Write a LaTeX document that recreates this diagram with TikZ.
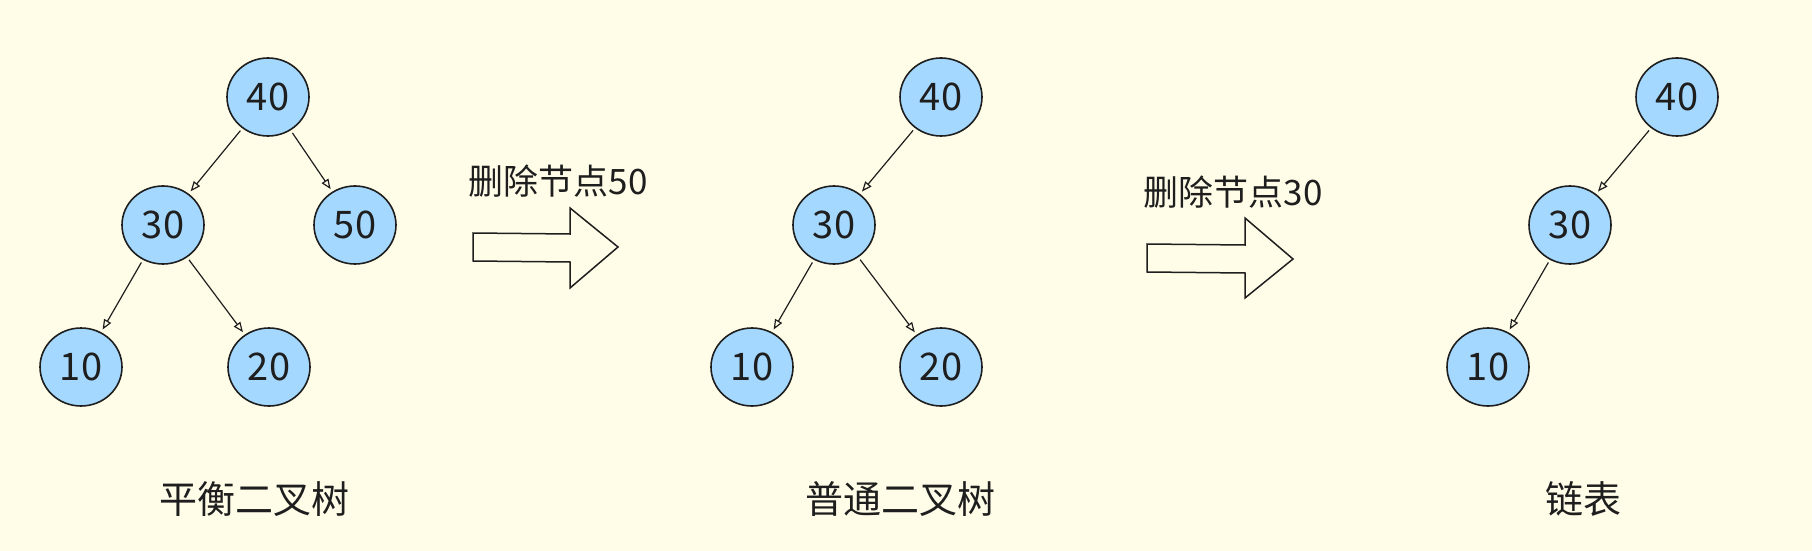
\documentclass[tikz,border=0pt]{standalone}
\usepackage{fontspec}
\setmainfont{Noto Sans CJK SC}
\usetikzlibrary{arrows.meta,shapes.geometric}
\definecolor{bg}{HTML}{FFFDE8}
\definecolor{nb}{HTML}{A5D8FF}
\definecolor{ink}{HTML}{1E1E1E}
\begin{document}
\begin{tikzpicture}[x=1pt,y=-1pt,
  nd/.style={ellipse,draw=ink,line width=1.6pt,fill=nb,minimum width=82pt,minimum height=78pt,inner sep=0pt,font=\fontsize{38}{40}\selectfont,text=ink},
  ed/.style={draw=ink,line width=1.2pt,-{Triangle[open,length=10pt,width=8pt]},shorten <=3pt,shorten >=3pt},
  lb/.style={font=\fontsize{38}{40}\selectfont,text=ink},
  bigarrow/.style={draw=ink,line width=1.5pt,fill=bg}]
\useasboundingbox[fill=bg] (0,0) rectangle (1812,551);
% tree 1
\node[nd] (a40) at (268,97) {40};
\node[nd] (a30) at (163,225) {30};
\node[nd] (a50) at (355,225) {50};
\node[nd] (a10) at (81,367) {10};
\node[nd] (a20) at (269,367) {20};
\draw[ed] (a40) -- (a30); \draw[ed] (a40) -- (a50);
\draw[ed] (a30) -- (a10); \draw[ed] (a30) -- (a20);
\node[lb] (l1) at (254,499) {平衡二叉树};
% arrow 1
\draw[bigarrow] (473,233) -- (570,234) -- (570,208) -- (618,247) -- (570,288) -- (570,262) -- (473,261) -- cycle;
\node[lb,font=\fontsize{35}{38}\selectfont] (t1) at (558,181) {删除节点50};
% tree 2
\node[nd] (b40) at (941,97) {40};
\node[nd] (b30) at (834,225) {30};
\node[nd] (b10) at (752,367) {10};
\node[nd] (b20) at (941,367) {20};
\draw[ed] (b40) -- (b30);
\draw[ed] (b30) -- (b10); \draw[ed] (b30) -- (b20);
\node[lb] (l2) at (900,499) {普通二叉树};
% arrow 2
\draw[bigarrow] (1147,244) -- (1245,245) -- (1245,218) -- (1293,259) -- (1245,298) -- (1245,273) -- (1147,272) -- cycle;
\node[lb,font=\fontsize{35}{38}\selectfont] (t2) at (1233,192) {删除节点30};
% tree 3
\node[nd] (c40) at (1677,97) {40};
\node[nd] (c30) at (1570,225) {30};
\node[nd] (c10) at (1488,367) {10};
\draw[ed] (c40) -- (c30); \draw[ed] (c30) -- (c10);
\node[lb] (l3) at (1583,499) {链表};
\end{tikzpicture}
\end{document}
